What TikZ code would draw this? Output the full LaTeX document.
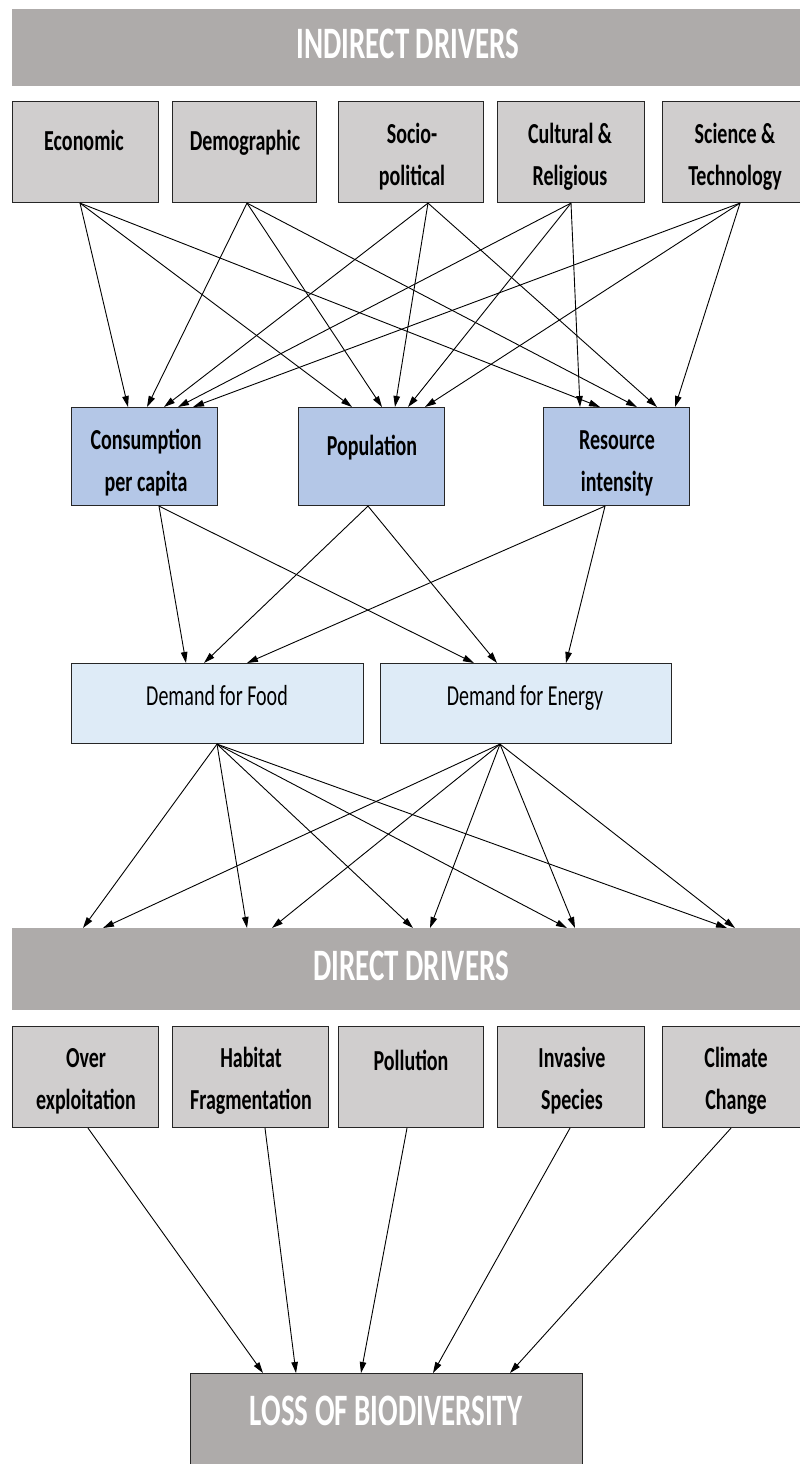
\documentclass[tikz,border=0pt]{standalone}
\usepackage{fontspec}
\usepackage{graphicx}
\setmainfont{Carlito}
\usetikzlibrary{arrows.meta}

\definecolor{bannergray}{RGB}{174,171,170}
\definecolor{boxgray}{RGB}{208,206,206}
\definecolor{midblue}{RGB}{180,199,231}
\definecolor{paleblue}{RGB}{222,235,247}

% tall, narrow lettering (one or more centred lines)
\newcommand\tallt[2][1.45]{\scalebox{1}[#1]{\begin{tabular}{@{}c@{}}#2\end{tabular}}}
% arrow from the bottom edge of #1 (offset #2) to the top edge of #3 (offset #4)
\newcommand\link[4]{\draw[arr] ([xshift=#2pt]#1.south west) -- ([xshift=#4pt]#3.north west);}

\begin{document}
\begin{tikzpicture}[x=1pt,y=-1pt,
  box/.style={draw=black!85, line width=1.1pt, anchor=north west, inner sep=0pt},
  graybox/.style={box, fill=boxgray},
  bluebox/.style={box, fill=midblue},
  palebox/.style={box, fill=paleblue},
  banner/.style={anchor=north west, inner sep=0pt, fill=bannergray},
  lbl/.style={inner sep=0pt, font=\fontsize{20}{29}\selectfont\bfseries},
  dlbl/.style={inner sep=0pt, font=\fontsize{20}{29}\selectfont},
  blbl/.style={inner sep=0pt, text=white, font=\fontsize{29}{35}\selectfont\bfseries},
  arr/.style={-{Triangle[length=11pt,width=6.5pt]}, line width=0.9pt, black}]

\useasboundingbox (0,0) rectangle (800,1464);
\fill[white] (0,0) rectangle (800,1464);

% ---- indirect drivers ----
\node[banner, minimum width=800pt, minimum height=77pt] (ind) at (12,9) {};
\node[blbl] (ind-t) at (408,48) {\tallt[1.55]{INDIRECT DRIVERS}};

\node[graybox, minimum width=146pt, minimum height=101pt] (eco) at (12,101) {};
\node[graybox, minimum width=144pt, minimum height=101pt] (dem) at (172,101) {};
\node[graybox, minimum width=145pt, minimum height=101pt] (soc) at (338,101) {};
\node[graybox, minimum width=147pt, minimum height=101pt] (cul) at (497,101) {};
\node[graybox, minimum width=146pt, minimum height=101pt] (sci) at (662,101) {};
\node[lbl] (eco-t) at (84,142) {\tallt{Economic}};
\node[lbl] (dem-t) at (245,142) {\tallt{Demographic}};
\node[lbl] (soc-t) at (412,156) {\tallt{Socio-\\political}};
\node[lbl] (cul-t) at (570,156) {\tallt{Cultural \&\\Religious}};
\node[lbl] (sci-t) at (735,156) {\tallt{Science \&\\Technology}};

% ---- underlying factors ----
\node[bluebox, minimum width=146pt, minimum height=98pt] (con) at (71,407) {};
\node[bluebox, minimum width=146pt, minimum height=98pt] (pop) at (298,407) {};
\node[bluebox, minimum width=146pt, minimum height=98pt] (res) at (543,407) {};
\node[lbl] (con-t) at (146,462) {\tallt{Consumption\\per capita}};
\node[lbl] (pop-t) at (372,447) {\tallt{Population}};
\node[lbl] (res-t) at (617,462) {\tallt{Resource\\intensity}};

% ---- demand ----
\node[palebox, minimum width=292pt, minimum height=80pt] (food) at (71,663) {};
\node[palebox, minimum width=291pt, minimum height=80pt] (ener) at (380,663) {};
\node[dlbl] (food-t) at (217,697) {\tallt{Demand for Food}};
\node[dlbl] (ener-t) at (525,697) {\tallt{Demand for Energy}};

% ---- direct drivers ----
\node[banner, minimum width=800pt, minimum height=82pt] (dir) at (12,928) {};
\node[blbl] (dir-t) at (411,970) {\tallt[1.55]{DIRECT DRIVERS}};

\node[graybox, minimum width=146pt, minimum height=101pt] (ovr) at (12,1026) {};
\node[graybox, minimum width=156pt, minimum height=101pt] (hab) at (172,1026) {};
\node[graybox, minimum width=145pt, minimum height=101pt] (pol) at (338,1026) {};
\node[graybox, minimum width=147pt, minimum height=101pt] (inv) at (497,1026) {};
\node[graybox, minimum width=146pt, minimum height=101pt] (cli) at (662,1026) {};
\node[lbl] (ovr-t) at (86,1080) {\tallt{Over\\exploitation}};
\node[lbl] (hab-t) at (251,1080) {\tallt{Habitat\\Fragmentation}};
\node[lbl] (pol-t) at (411,1062) {\tallt{Pollution}};
\node[lbl] (inv-t) at (572,1080) {\tallt{Invasive\\Species}};
\node[lbl] (cli-t) at (736,1080) {\tallt{Climate\\Change}};

% ---- outcome ----
\node[box, fill=bannergray, minimum width=392pt, minimum height=100pt] (loss) at (190,1373) {};
\node[blbl] (loss-t) at (386,1415) {\tallt[1.55]{LOSS OF BIODIVERSITY}};

% ---- indirect drivers -> underlying factors ----
\link{eco}{68}{con}{57} \link{eco}{68}{pop}{54} \link{eco}{68}{res}{57}
\link{dem}{75}{con}{76} \link{dem}{75}{pop}{84} \link{dem}{75}{res}{94}
\link{soc}{90}{con}{93} \link{soc}{90}{pop}{97} \link{soc}{90}{res}{114}
\link{cul}{74}{con}{107} \link{cul}{74}{pop}{110} \link{cul}{74}{res}{37}
\link{sci}{78}{con}{122} \link{sci}{78}{pop}{127} \link{sci}{78}{res}{132}

% ---- underlying factors -> demand ----
\link{con}{88}{food}{115} \link{con}{88}{ener}{94}
\link{pop}{70}{food}{133} \link{pop}{70}{ener}{117}
\link{res}{62}{food}{176} \link{res}{62}{ener}{186}

% ---- demand -> direct drivers ----
\link{food}{146}{dir}{71} \link{food}{146}{dir}{235} \link{food}{146}{dir}{401}
\link{food}{146}{dir}{555} \link{food}{146}{dir}{715}
\link{ener}{120}{dir}{91} \link{ener}{120}{dir}{260} \link{ener}{120}{dir}{418}
\link{ener}{120}{dir}{563} \link{ener}{120}{dir}{723}

% ---- direct drivers -> loss of biodiversity ----
\link{ovr}{76}{loss}{73}
\link{hab}{93}{loss}{106}
\link{pol}{69}{loss}{171}
\link{inv}{73}{loss}{243}
\link{cli}{69}{loss}{320}

\end{tikzpicture}
\end{document}
